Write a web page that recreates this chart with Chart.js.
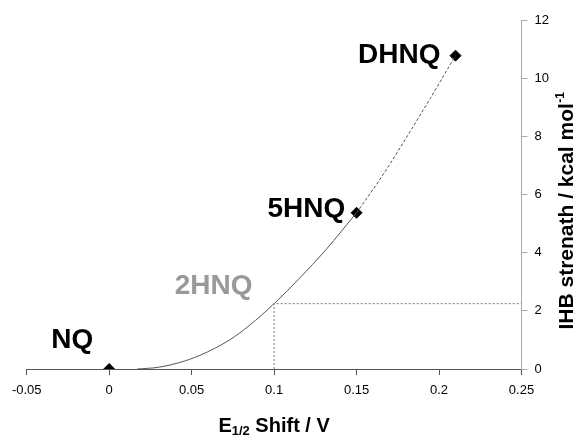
<!DOCTYPE html>
<html>
<head>
<meta charset="utf-8">
<script src="https://cdn.jsdelivr.net/npm/chart.js@4.4.1/dist/chart.umd.min.js"></script>
<style>
html,body{margin:0;padding:0;background:#fff;}
canvas{display:block;}
</style>
</head>
<body>
<canvas id="c" width="574" height="435"></canvas>
<script>
// ---- data ----
const xTicks = [-0.05, 0, 0.05, 0.1, 0.15, 0.2, 0.25];
const yTicks = [0, 2, 4, 6, 8, 10, 12];

const compounds = ["NQ", "2HNQ", "5HNQ", "DHNQ"];
const compoundX = [0, 0.1, 0.15, 0.21];
const compoundY = [0, 2.25, 5.38, 10.79];

const markerX = [0, 0.15, 0.21];
const markerY = [0, 5.38, 10.79];

const curveSolidX = [0.017, 0.03, 0.0425, 0.055, 0.073, 0.085, 0.1, 0.115, 0.1316, 0.15];
const curveSolidY = [0, 0.06, 0.22, 0.47, 1.0, 1.5, 2.25, 3.1, 4.12, 5.38];

const curveDashX = [0.15, 0.165, 0.18, 0.195, 0.21];
const curveDashY = [5.38, 6.6, 7.95, 9.35, 10.79];

const guideX = [0.1, 0.1, 0.25];
const guideY = [0, 2.25, 2.25];

// ---- helpers ----
const FONT = "'Liberation Sans', Arial, Helvetica, sans-serif";
const pts = (xs, ys) => xs.map((x, i) => ({x: x, y: ys[i]}));

const labelStyle = {
  "NQ":   {color: "#000", dx: -16,  dy: -21},
  "2HNQ": {color: "#999", dx: -21.6, dy: -9.7},
  "5HNQ": {color: "#000", dx: -11.3, dy: 4.6},
  "DHNQ": {color: "#000", dx: -15,  dy: 7}
};

const annotate = {
  id: 'annotate',
  afterDatasetsDraw(chart) {
    const ctx = chart.ctx;
    const xs = chart.scales.x, ys = chart.scales.y;
    ctx.save();
    ctx.font = "bold 28px " + FONT;
    ctx.textAlign = "right";
    ctx.textBaseline = "alphabetic";
    compounds.forEach((name, i) => {
      const st = labelStyle[name];
      const px = xs.getPixelForValue(compoundX[i]);
      const py = ys.getPixelForValue(compoundY[i]);
      ctx.fillStyle = st.color;
      ctx.fillText(name, px + st.dx, py + st.dy);
    });
    ctx.restore();

    // x axis title: E1/2 Shift / V
    ctx.save();
    ctx.fillStyle = "#000";
    ctx.textBaseline = "alphabetic";
    ctx.textAlign = "left";
    const big = "bold 20px " + FONT, small = "bold 13px " + FONT;
    ctx.font = big; const wE = ctx.measureText("E").width;
    const wRest = ctx.measureText(" Shift / V").width;
    ctx.font = small; const wSub = ctx.measureText("1/2").width;
    const cx = (chart.chartArea.left + chart.chartArea.right) / 2;
    let x0 = cx - (wE + wSub + wRest) / 2;
    const by = 432;
    ctx.font = big; ctx.fillText("E", x0, by);
    ctx.font = small; ctx.fillText("1/2", x0 + wE, by + 3);
    ctx.font = big; ctx.fillText(" Shift / V", x0 + wE + wSub, by);
    ctx.restore();

    // y axis title (rotated)
    ctx.save();
    ctx.translate(573, 211);
    ctx.rotate(-Math.PI / 2);
    ctx.fillStyle = "#000";
    ctx.textBaseline = "alphabetic";
    ctx.textAlign = "left";
    const main = "IHB strenath / kcal mol", sup = "-1";
    ctx.font = "bold 21px " + FONT; const wm = ctx.measureText(main).width;
    ctx.font = "bold 12px " + FONT; const ws = ctx.measureText(sup).width;
    const sx = -(wm + ws) / 2;
    ctx.font = "bold 21px " + FONT; ctx.fillText(main, sx, 0);
    ctx.font = "bold 12px " + FONT; ctx.fillText(sup, sx + wm + 0.5, -9);
    ctx.restore();
  }
};

const bg = {
  id: 'bg',
  beforeDraw(chart) {
    const ctx = chart.ctx;
    ctx.save(); ctx.fillStyle = "#fff"; ctx.fillRect(0, 0, chart.width, chart.height); ctx.restore();
  }
};

new Chart(document.getElementById('c'), {
  type: 'scatter',
  data: {
    datasets: [
      {
        data: pts(guideX, guideY), showLine: true, borderColor: "#777", borderWidth: 1,
        borderDash: [2, 2], pointRadius: 0, tension: 0
      },
      {
        data: pts(curveSolidX, curveSolidY), showLine: true, borderColor: "#555", borderWidth: 1,
        pointRadius: 0, cubicInterpolationMode: 'monotone'
      },
      {
        data: pts(curveDashX, curveDashY), showLine: true, borderColor: "#555", borderWidth: 1,
        borderDash: [3, 2], pointRadius: 0, cubicInterpolationMode: 'monotone'
      },
      {
        data: pts(markerX, markerY), showLine: false, pointStyle: 'rectRot',
        pointRadius: 5.5, backgroundColor: "#000", borderColor: "#000", borderWidth: 1
      }
    ]
  },
  options: {
    responsive: false,
    animation: false,
    events: [],
    layout: {padding: {left: 26.7, top: 20.5, right: 0, bottom: 0}},
    plugins: {legend: {display: false}, tooltip: {enabled: false}},
    scales: {
      x: {
        type: 'linear', min: -0.05, max: 0.25,
        afterBuildTicks: s => { s.ticks = xTicks.map(v => ({value: v})); },
        afterFit: s => { s.height = 66; },
        border: {display: true, color: "#555", width: 1},
        grid: {drawOnChartArea: false, drawTicks: true, tickLength: 6, color: "#555"},
        ticks: {
          color: "#000", font: {family: FONT, size: 13}, padding: 8,
          maxRotation: 0, autoSkip: false,
          callback: v => String(+(+v).toFixed(2))
        }
      },
      y: {
        type: 'linear', position: 'right', min: 0, max: 12,
        afterBuildTicks: s => { s.ticks = yTicks.map(v => ({value: v})); },
        afterFit: s => { s.width = 52.5; },
        border: {display: true, color: "#aaa", width: 1},
        grid: {drawOnChartArea: false, drawTicks: true, tickLength: 6, color: "#aaa"},
        ticks: {
          color: "#000", font: {family: FONT, size: 13}, padding: 7,
          autoSkip: false, callback: v => String(v)
        }
      }
    }
  },
  plugins: [bg, annotate]
});
</script>
</body>
</html>
